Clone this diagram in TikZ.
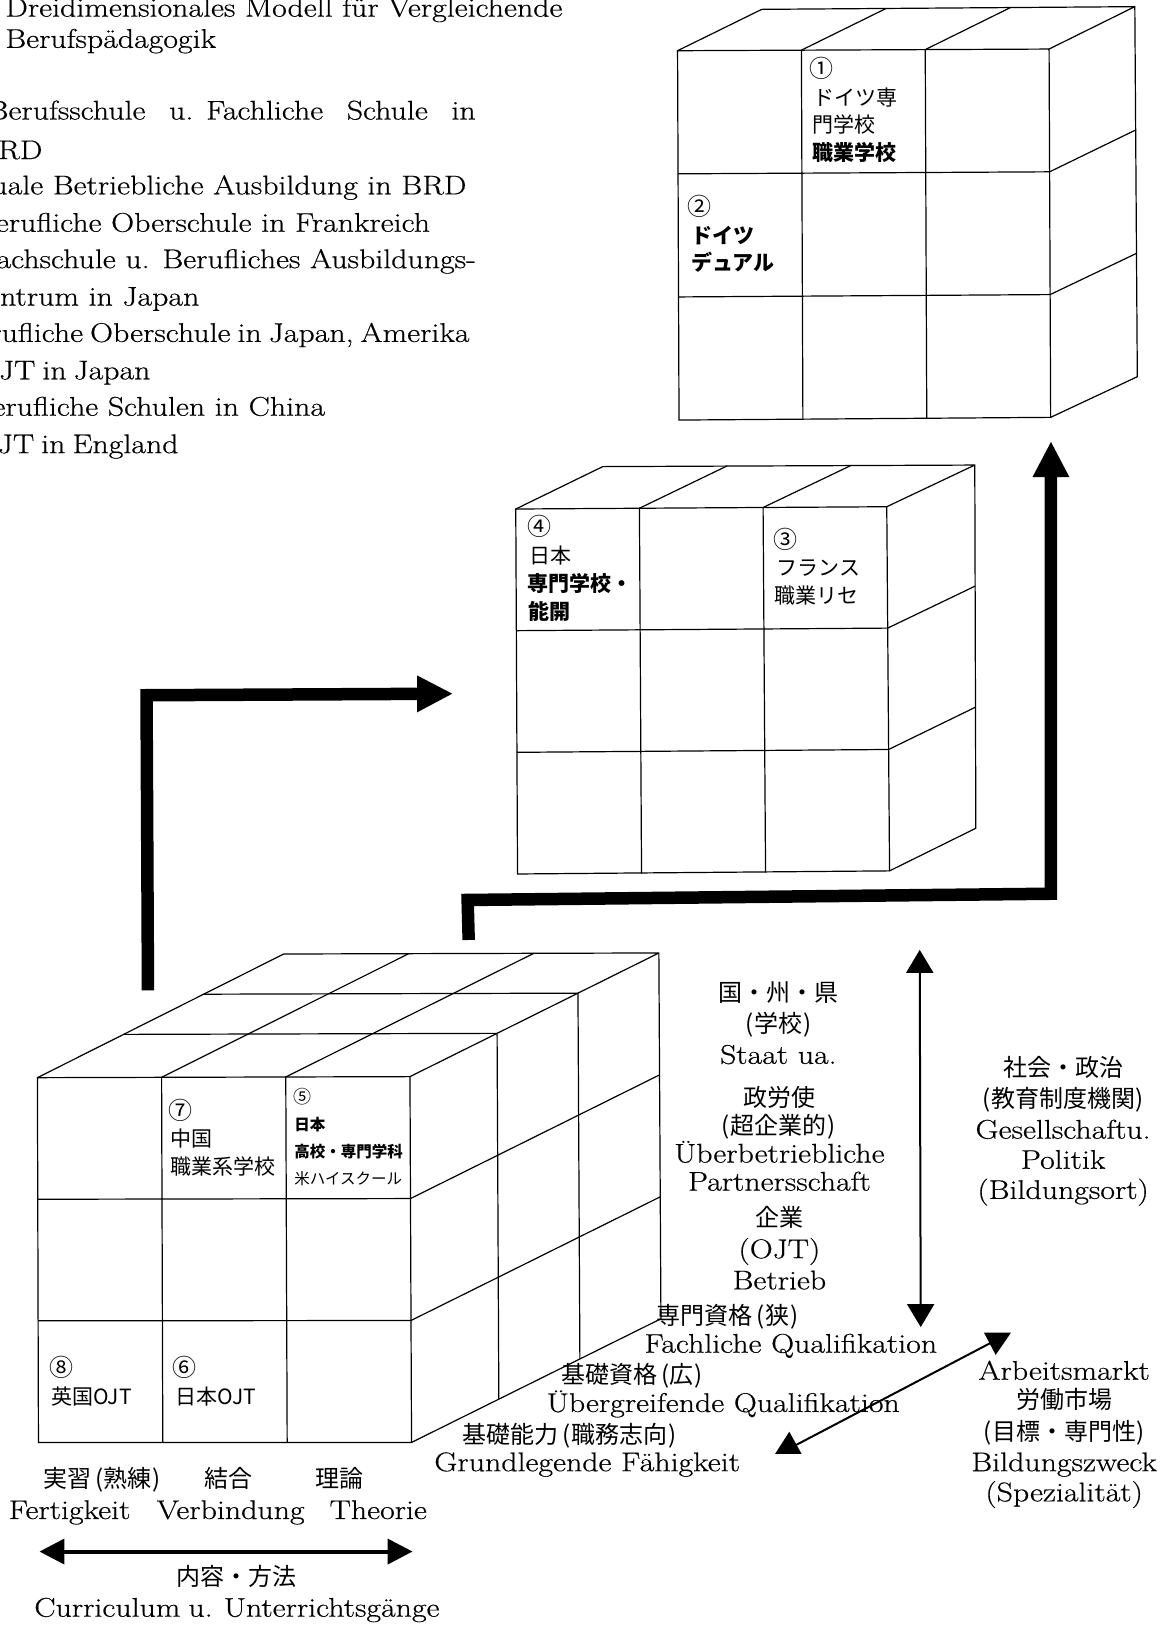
\documentclass[tikz,border=0pt]{standalone}
\usepackage{fontspec}
\setmainfont{Latin Modern Roman}[FakeStretch=1.18,RawFeature={embolden=0.5}]
\newfontfamily\cjk{Noto Sans CJK JP}
\usetikzlibrary{calc,arrows.meta}
\tikzset{
  boxline/.style={line width=1.2pt,line join=miter,line cap=round},
  heavy/.style={line width=12.5pt,line join=miter,-{Triangle[length=36pt,width=34pt]}},
  thinarrow/.style={line width=2pt,{Triangle[length=23pt,width=27pt]}-{Triangle[length=23pt,width=27pt]}},
  midarrow/.style={line width=4pt,{Triangle[length=25pt,width=25pt]}-{Triangle[length=25pt,width=25pt]}},
  lat/.style={font=\fontsize{27}{30}\selectfont,inner sep=0pt,text height=20pt,text depth=2pt},
  latl/.style={lat,anchor=base east},
  jp/.style={font=\fontsize{24}{28}\cjk,inner sep=0pt,text height=20pt,text depth=2pt},
  cell/.style={font=\fontsize{21}{24}\cjk,inner sep=0pt,anchor=west,text height=18pt,text depth=2pt},
  cellb/.style={cell,font=\fontsize{21}{24}\cjk\bfseries},
  circ/.style={cell,font=\fontsize{24}{26}\cjk},
  small/.style={cell,font=\fontsize{15.5}{18}\cjk,text height=14pt},
  smallb/.style={small,font=\fontsize{15.5}{18}\cjk\bfseries},
}
\newcommand{\kl}{\kern.17em(\kern.03em}
\newcommand{\kr}{\kern.03em)\kern.17em}
\newcommand{\cubebox}[7]{%
  \coordinate (ca) at #1; \coordinate (cb) at #2; \coordinate (cc) at #3; \coordinate (cd) at #4;
  \coordinate (ce) at #5; \coordinate (cf) at #6; \coordinate (cg) at #7;
  \draw[boxline] (ca)--(cb)--(cc)--(cd)--cycle;
  \draw[boxline] (ca)--(ce)--(cf)--(cg)--(cc) (cb)--(cf);
  \foreach \k in {1,2}{
    \draw[boxline] ($(ca)!\k/3!(cb)$)--($(cd)!\k/3!(cc)$);
    \draw[boxline] ($(ca)!\k/3!(cd)$)--($(cb)!\k/3!(cc)$)--($(cf)!\k/3!(cg)$);
    \draw[boxline] ($(ca)!\k/3!(cb)$)--($(ce)!\k/3!(cf)$);
  }%
}
\begin{document}
\begin{tikzpicture}[x=1.0392pt,y=-1.0392pt]
\useasboundingbox (0,0) rectangle (1123,1568.5);

% boxes
\cubebox{(652,48.8)}{(1009.5,47.2)}{(1011,401.6)}{(653.4,404.2)}{(733,9)}{(1092,6.4)}{(1094.4,362.5)}
\cubebox{(496.3,489.8)}{(853.3,487.6)}{(856,838)}{(498,841)}{(580,449)}{(938,447.5)}{(939,797)}
\cubebox{(36,1037)}{(394.5,1036)}{(396,1388)}{(37,1388)}{(273,918)}{(634,917)}{(636,1269)}
% depth subdivision of the lower box
\foreach \k in {0.35,0.675}{
  \draw[boxline] ($(ca)!\k!(ce)$)--($(cb)!\k!(cf)$)--($(cc)!\k!(cg)$);
}

% thick arrows
\coordinate (h1a) at (142.4,953);
\coordinate (h1b) at (141,669);
\coordinate (h1c) at (436,667.5);
\draw[heavy] (h1a)--(h1b)--(h1c);
\coordinate (h2a) at (451,904.5);
\coordinate (h2b) at (450,866);
\coordinate (h2c) at (1011.3,860);
\coordinate (h2d) at (1011.3,424.4);
\draw[heavy] (h2a)--(h2b)--(h2c)--(h2d);

% thin arrows
\coordinate (v1) at (885,914);
\coordinate (v2) at (886,1277);
\draw[thinarrow] (v1)--(v2);
\coordinate (m1) at (38,1493);
\coordinate (m2) at (397,1493);
\draw[midarrow] (m1)--(m2);
\coordinate (d1) at (957.5,1290);
\coordinate (d2) at (765,1391);
\draw[line width=2pt] (d1)--(d2);
\fill (946.9,1282.4)--(972.8,1282.4)--(958.1,1303.8)--cycle;
\fill (759.5,1377.7)--(745.8,1399.1)--(771.4,1399.1)--cycle;

% heading and list
\node[lat,anchor=base west] (t1) at (5,16) {Dreidimensionales Modell für Vergleichende};
\node[lat,anchor=base west] (t2) at (5,46) {Berufspädagogik};
\node[latl] (l1) at (458,115) {\hbox to 488pt{Berufsschule\hfil u. Fachliche\hfil Schule\hfil in}};
\node[latl] (l2) at (41,153) {BRD};
\node[latl] (l3) at (449,187) {Duale Betriebliche Ausbildung in BRD};
\node[latl] (l4) at (414,223) {Berufliche Oberschule in Frankreich};
\node[latl] (l5) at (458,258) {Fachschule u. Berufliches Ausbildungs-};
\node[latl] (l6) at (192,294) {zentrum in Japan};
\node[latl] (l7) at (452,329) {\spaceskip=7pt Berufliche Oberschule in Japan, Amerika};
\node[latl] (l8) at (145,365) {\spaceskip=7pt OJT in Japan};
\node[latl] (l9) at (313,400) {Berufliche Schulen in China};
\node[latl] (l10) at (172,436) {\spaceskip=7pt OJT in England};

% cell texts, upper box
\node[circ] (c1a) at (779,67) {①};
\node[cell] (c1b) at (783,94) {ドイツ専};
\node[cell] (c1c) at (782,120) {門学校};
\node[cellb] (c1d) at (782,147) {職業学校};
\node[circ] (c2a) at (661,200) {②};
\node[cellb] (c2b) at (665,227) {ドイツ};
\node[cellb] (c2c) at (665,253) {デュアル};
% middle box
\node[circ] (c4a) at (507,508) {④};
\node[cell] (c4b) at (509,535) {日本};
\node[cellb] (c4c) at (507,561) {専門学校・};
\node[cellb] (c4d) at (508,588) {能開};
\node[circ] (c3a) at (744,520) {③};
\node[cell] (c3b) at (747,546) {フランス};
\node[cell] (c3c) at (745,573) {職業リセ};
% lower box
\node[circ] (c7a) at (162,1070) {⑦};
\node[cell] (c7b) at (164,1096) {中国};
\node[cell] (c7c) at (164,1122) {職業系学校};
\node[small,font=\fontsize{18}{20}\cjk] (c5a) at (282,1056) {⑤};
\node[smallb] (c5b) at (283,1082) {日本};
\node[smallb] (c5c) at (283,1108) {高校・専門学科};
\node[small] (c5d) at (283,1134) {米ハイスクール};
\node[circ] (c8a) at (47,1317) {⑧};
\node[cell] (c8b) at (49,1344) {英国OJT};
\node[circ] (c6a) at (166,1317) {⑥};
\node[cell] (c6b) at (169,1344) {日本OJT};

% axis labels, centre column
\node[jp] (a1) at (749,955) {国・州・県};
\node[jp] (a2) at (749,985) {\kl 学校\kr};
\node[lat] (a3) at (749,1015) {Staat ua.};
\node[jp] (a4) at (750,1056) {政労使};
\node[jp] (a5) at (749,1083) {\kl 超企業的\kr};
\node[lat] (a6) at (750,1110) {Überbetriebliche};
\node[lat] (a7) at (750,1137) {Partnersschaft};
\node[jp] (a8) at (750,1172) {企業};
\node[lat] (a9) at (750,1202) {(OJT)};
\node[lat] (a10) at (750,1232) {Betrieb};
\node[jp] (q1) at (702,1266) {専門資格\kl 狭\kr};
\node[lat] (q2) at (761,1293) {Fachliche Qualifikation};
\node[jp] (q3) at (610,1323) {基礎資格\kl 広\kr};
\node[lat] (q4) at (696,1350) {Übergreifende Qualifikation};
\node[jp] (q5) at (550,1380) {基礎能力\kl 職務志向\kr};
\node[lat] (q6) at (565,1407) {Grundlegende Fähigkeit};
% right column
\node[jp] (r1) at (1023,1027) {社会・政治};
\node[jp] (r2) at (1023,1057) {\kl 教育制度機関\kr};
\node[lat] (r3) at (1023,1087) {Gesellschaftu.};
\node[lat] (r4) at (1023,1116) {Politik};
\node[lat] (r5) at (1023,1145) {(Bildungsort)};
\node[lat] (r6) at (1024,1319) {Arbeitsmarkt};
\node[jp] (r7) at (1024,1347) {労働市場};
\node[jp] (r8) at (1024,1377) {\kl 目標・専門性\kr};
\node[lat] (r9) at (1024,1407) {Bildungszweck};
\node[lat] (r10) at (1024,1436) {(Spezialität)};
% bottom labels
\node[jp] (b1) at (100,1423) {実習\kl 熟練\kr};
\node[jp] (b2) at (220,1423) {結合};
\node[jp] (b3) at (327,1423) {理論};
\node[lat] (b4) at (67,1453) {Fertigkeit};
\node[lat] (b5) at (222,1453) {Verbindung};
\node[lat] (b6) at (364,1453) {Theorie};
\node[jp] (b7) at (228,1517) {内容・方法};
\node[lat] (b8) at (228,1547) {\spaceskip=8pt Curriculum u. Unterrichtsgänge};
\end{tikzpicture}
\end{document}
